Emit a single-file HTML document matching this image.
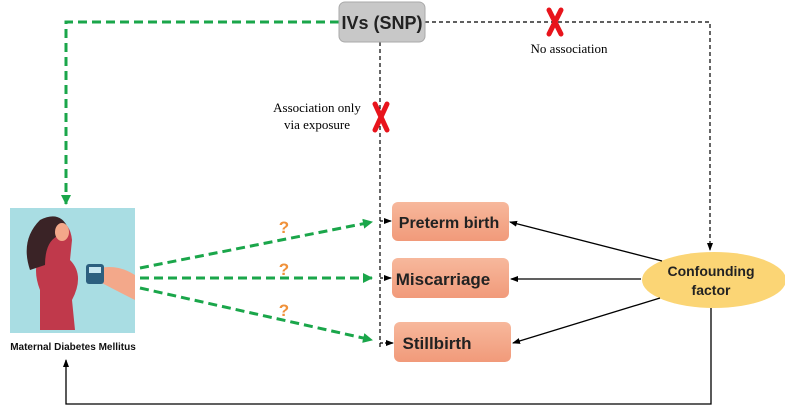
<!DOCTYPE html>
<html><head><style>
body{margin:0;background:#fff;width:785px;height:413px;overflow:hidden}
</style></head><body>
<svg width="785" height="413" viewBox="0 0 785 413" xmlns="http://www.w3.org/2000/svg">
<defs>
<marker id="ab" markerWidth="8" markerHeight="8" refX="7" refY="4" orient="auto" markerUnits="userSpaceOnUse"><path d="M0,1 L8,4 L0,7z" fill="#000"/></marker>
<marker id="ag" markerWidth="10" markerHeight="10" refX="9" refY="5" orient="auto" markerUnits="userSpaceOnUse"><path d="M0,0 L10,5 L0,10z" fill="#1aa64a"/></marker>
<linearGradient id="og" x1="0" y1="0" x2="0" y2="1"><stop offset="0" stop-color="#f7b89c"/><stop offset="1" stop-color="#f19a7a"/></linearGradient>
</defs>
<path d="M339,22 H66 V204" fill="none" stroke="#1aa64a" stroke-width="3" stroke-dasharray="9,5" marker-end="url(#ag)"/>
<path d="M425,22 H710 V250" fill="none" stroke="#000" stroke-width="1.2" stroke-dasharray="4,3" marker-end="url(#ab)"/>
<path d="M380,42 V348" fill="none" stroke="#000" stroke-width="1.2" stroke-dasharray="4,3"/>
<path d="M380,221 H391" stroke="#000" stroke-width="1.2" stroke-dasharray="3,2" marker-end="url(#ab)"/>
<path d="M380,278 H391" stroke="#000" stroke-width="1.2" stroke-dasharray="3,2" marker-end="url(#ab)"/>
<path d="M380,343 H393" stroke="#000" stroke-width="1.2" stroke-dasharray="3,2" marker-end="url(#ab)"/>
<rect x="339" y="2" width="86" height="40" rx="6" fill="#c8c8c8" stroke="#aaa"/>
<text x="382" y="29" text-anchor="middle" font-family="Liberation Sans,sans-serif" font-weight="bold" font-size="18" fill="#222">IVs (SNP)</text>
<g stroke="#e8141c" stroke-width="5" stroke-linecap="round">
<path d="M549,10 L561,34 M561,10 L549,34"/>
<path d="M375,104 L387,130 M387,104 L375,130"/>
</g>
<text x="569" y="53" text-anchor="middle" font-family="Liberation Serif,serif" font-size="13">No association</text>
<text x="317" y="112" text-anchor="middle" font-family="Liberation Serif,serif" font-size="13">Association only</text>
<text x="317" y="129" text-anchor="middle" font-family="Liberation Serif,serif" font-size="13">via exposure</text>
<rect x="392" y="202" width="117" height="39" rx="6" fill="url(#og)"/>
<text x="449" y="228" text-anchor="middle" font-family="Liberation Sans,sans-serif" font-weight="bold" font-size="16" fill="#222">Preterm birth</text>
<rect x="392" y="258" width="117" height="40" rx="6" fill="url(#og)"/>
<text x="443" y="285" text-anchor="middle" font-family="Liberation Sans,sans-serif" font-weight="bold" font-size="17" fill="#222">Miscarriage</text>
<rect x="394" y="322" width="117" height="40" rx="6" fill="url(#og)"/>
<text x="437" y="349" text-anchor="middle" font-family="Liberation Sans,sans-serif" font-weight="bold" font-size="17" fill="#222">Stillbirth</text>
<ellipse cx="714" cy="280" rx="72" ry="28" fill="#fbd575"/>
<text x="711" y="276" text-anchor="middle" font-family="Liberation Sans,sans-serif" font-weight="bold" font-size="14" fill="#222">Confounding</text>
<text x="711" y="295" text-anchor="middle" font-family="Liberation Sans,sans-serif" font-weight="bold" font-size="14" fill="#222">factor</text>
<path d="M662,261 L510,222" stroke="#000" stroke-width="1.3" marker-end="url(#ab)"/>
<path d="M641,279 L511,279" stroke="#000" stroke-width="1.3" marker-end="url(#ab)"/>
<path d="M660,298 L513,343" stroke="#000" stroke-width="1.3" marker-end="url(#ab)"/>
<path d="M711,308 V404 H66 V360" fill="none" stroke="#000" stroke-width="1.3" marker-end="url(#ab)"/>
<g stroke="#1aa64a" stroke-width="3" stroke-dasharray="9,5" fill="none">
<path d="M140,268 L372,222" marker-end="url(#ag)"/>
<path d="M140,278 L372,278" marker-end="url(#ag)"/>
<path d="M140,288 L372,340" marker-end="url(#ag)"/>
</g>
<g font-family="Liberation Sans,sans-serif" font-weight="bold" font-size="17" fill="#f0913a" text-anchor="middle">
<text x="284" y="233">?</text><text x="284" y="275">?</text><text x="284" y="316">?</text>
</g>
<rect x="10" y="208" width="125" height="125" fill="#a9dde3"/>
<path d="M40,330 L40,290 Q30,265 45,245 Q45,225 55,222 Q70,220 72,240 L70,260 Q85,275 72,300 L75,330z" fill="#c0394b"/>
<path d="M30,270 Q20,240 40,220 Q60,210 68,228 L60,235 Q45,240 45,265z" fill="#3a2326"/>
<ellipse cx="62" cy="232" rx="7" ry="9" fill="#f3a88a"/>
<path d="M92,270 Q115,262 135,275 L135,300 Q115,290 100,282z" fill="#f3a88a"/>
<rect x="86" y="264" width="18" height="20" rx="3" fill="#2c5f7f"/>
<rect x="89" y="267" width="12" height="6" fill="#c7e6f0"/>
<text x="73" y="350" text-anchor="middle" font-family="Liberation Sans,sans-serif" font-weight="bold" font-size="10" fill="#111">Maternal Diabetes Mellitus</text>
</svg>
</body></html>
